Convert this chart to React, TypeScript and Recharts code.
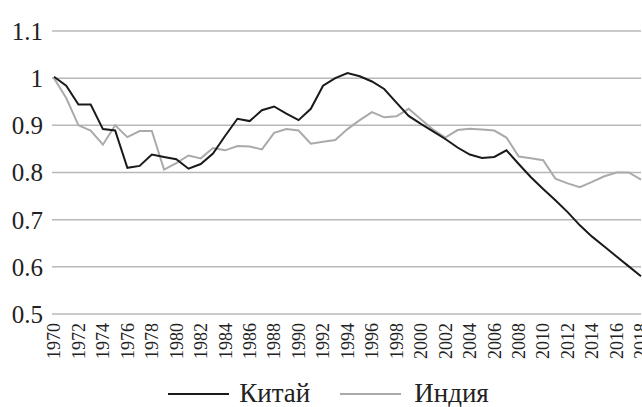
import { CartesianGrid, Legend, Line, LineChart, XAxis, YAxis } from "recharts";

const years = [
  1970, 1971, 1972, 1973, 1974, 1975, 1976, 1977, 1978, 1979, 1980, 1981, 1982,
  1983, 1984, 1985, 1986, 1987, 1988, 1989, 1990, 1991, 1992, 1993, 1994, 1995,
  1996, 1997, 1998, 1999, 2000, 2001, 2002, 2003, 2004, 2005, 2006, 2007, 2008,
  2009, 2010, 2011, 2012, 2013, 2014, 2015, 2016, 2017, 2018,
];

const china = [
  1.003, 0.984, 0.944, 0.944, 0.892, 0.889, 0.81, 0.814, 0.838, 0.833, 0.828,
  0.808, 0.818, 0.84, 0.878, 0.914, 0.909, 0.932, 0.94, 0.925, 0.911, 0.935,
  0.984, 1.0, 1.011, 1.004, 0.993, 0.977, 0.948, 0.92, 0.903, 0.887, 0.871,
  0.853, 0.838, 0.831, 0.833, 0.847, 0.818, 0.79, 0.765, 0.741, 0.716, 0.688,
  0.664, 0.643, 0.622, 0.601, 0.58,
];

const india = [
  1.0, 0.958, 0.9, 0.889, 0.859, 0.9, 0.875, 0.888, 0.888, 0.806, 0.82, 0.836,
  0.83, 0.852, 0.847, 0.856, 0.855, 0.849, 0.884, 0.892, 0.889, 0.861, 0.865,
  0.869, 0.892, 0.911, 0.928, 0.917, 0.919, 0.935, 0.913, 0.891, 0.874, 0.89,
  0.893, 0.891, 0.889, 0.874, 0.834, 0.83, 0.826, 0.787, 0.777, 0.769, 0.78,
  0.792, 0.8, 0.8, 0.785,
];

const yTicks = [0.5, 0.6, 0.7, 0.8, 0.9, 1, 1.1];

const data = years.map((year, i) => ({
  year,
  china: china[i],
  india: india[i],
}));

const FONT = "Liberation Serif, Times New Roman, Tinos, DejaVu Serif, serif";

function YearTick({ x, y, payload }: any) {
  return (
    <text
      transform={`translate(${x},${y + 9}) rotate(-90)`}
      textAnchor="end"
      dy="0.35em"
      fontFamily={FONT}
      fontSize={18}
      fill="#222"
    >
      {payload.value}
    </text>
  );
}

function LegendBox() {
  const item = (color: string, label: string, gap: number) => (
    <span style={{ display: "inline-flex", alignItems: "center" }}>
      <span
        style={{
          display: "inline-block",
          width: 61,
          height: 2,
          background: color,
          marginRight: gap,
        }}
      />
      <span>{label}</span>
    </span>
  );
  return (
    <div
      style={{
        display: "flex",
        justifyContent: "center",
        alignItems: "center",
        gap: 30,
        height: 34,
        boxSizing: "border-box",
        paddingTop: 7,
        paddingLeft: 16,
        fontFamily: FONT,
        fontSize: 27,
        color: "#222",
      }}
    >
      {item("#1a1a1a", "Китай", 10)}
      {item("#aaaaaa", "Индия", 13)}
    </div>
  );
}

export default function App() {
  return (
    <div
      style={{
        position: "absolute",
        left: 0,
        top: 0,
        width: 642,
        height: 407,
        overflow: "hidden",
        background: "#fff",
      }}
    >
      <LineChart
        width={645}
        height={407}
        data={data}
        margin={{ top: 31, right: 4, bottom: 0, left: 0 }}
      >
        <CartesianGrid vertical={false} stroke="#b8b8b8" strokeWidth={1.5} />
        <XAxis
          dataKey="year"
          interval={1}
          tick={<YearTick />}
          tickLine={false}
          axisLine={false}
          tickSize={0}
          tickMargin={0}
          height={59}
          padding={{ left: 2, right: 0 }}
        />
        <YAxis
          domain={[0.5, 1.1]}
          ticks={yTicks}
          width={52}
          tickLine={false}
          axisLine={false}
          tickSize={0}
          tickMargin={9}
          tick={{ fontFamily: FONT, fontSize: 25, fill: "#222" }}
        />
        <Legend verticalAlign="bottom" content={<LegendBox />} />
        <Line
          dataKey="india"
          stroke="#aaaaaa"
          strokeWidth={2}
          dot={false}
          isAnimationActive={false}
        />
        <Line
          dataKey="china"
          stroke="#1a1a1a"
          strokeWidth={2}
          dot={false}
          isAnimationActive={false}
        />
      </LineChart>
    </div>
  );
}
